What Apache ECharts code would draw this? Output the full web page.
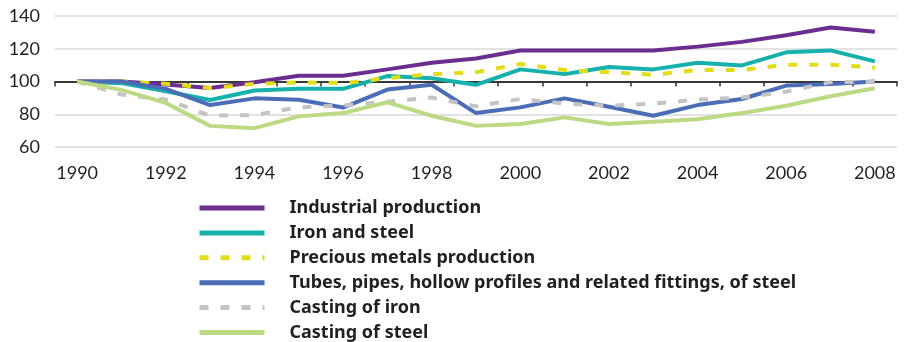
<!DOCTYPE html>
<html>
<head>
<meta charset="utf-8">
<script src="https://cdn.jsdelivr.net/npm/echarts@6/dist/echarts.min.js"></script>
<style>
  html, body { margin: 0; padding: 0; background: #fff; }
  #chart { width: 908px; height: 342px; }
</style>
</head>
<body>
<div id="chart"></div>
<script>
// Index values, 1990 = 100
const years = ['1990','1991','1992','1993','1994','1995','1996','1997','1998','1999',
               '2000','2001','2002','2003','2004','2005','2006','2007','2008'];

const industrialProduction = [100, 100, 98.2, 96, 99.5, 103.5, 103.5, 107.4, 111.5, 114,
                              118.9, 118.9, 118.9, 118.9, 121.3, 124.2, 128.3, 133, 130.4];
const ironAndSteel = [100, 99, 94, 88.7, 94.5, 95.5, 95.5, 103.3, 102, 98,
                      107.4, 104.5, 108.8, 107.4, 111.5, 109.8, 117.8, 119, 112.3];
const preciousMetals = [100, 100, 98.6, 96, 98.5, 99.5, 99, 102, 104.5, 105.7,
                        110.7, 107, 105.7, 104.1, 107, 107, 110.3, 110.3, 108.5];
const tubesPipes = [100, 100, 95.5, 85.6, 89.7, 88.9, 84.1, 95.1, 98, 80.7,
                    84.2, 89.7, 84.6, 79.1, 85.6, 89.3, 97.5, 98.4, 100];
const castingIron = [100, 92, 89, 79.1, 79.5, 84.2, 85.3, 87.7, 90.2, 84.8,
                     89.3, 86.5, 85.2, 86.5, 88.9, 90.2, 93.8, 99.6, 99.8];
const castingSteel = [100, 94.9, 86.9, 72.9, 71.5, 78.7, 80.7, 87.3, 79.1, 72.9,
                      74, 78.1, 74, 75.4, 77, 80.7, 85.2, 91, 95.9];

const seriesNames = [
  'Industrial production',
  'Iron and steel',
  'Precious metals production',
  'Tubes, pipes, hollow profiles and related fittings, of steel',
  'Casting of iron',
  'Casting of steel'
];
const seriesData = [industrialProduction, ironAndSteel, preciousMetals, tubesPipes, castingIron, castingSteel];
const seriesColors = ['#6b2d8f', '#16b1ac', '#e2dc1a', '#4a6db5', '#c4c4c4', '#bcd983'];
const seriesDash = ['solid', 'solid', [9, 12], 'solid', [9, 12], 'solid'];

const yTicks = { min: 60, max: 140, step: 20 };

const chart = echarts.init(document.getElementById('chart'), null, { renderer: 'canvas' });

const labelFont = 'Lato, "Open Sans", sans-serif';

chart.setOption({
  animation: false,
  backgroundColor: '#ffffff',
  grid: [
    { left: 55, right: 11, top: 16, height: 131 },
    // upper half of the plot: its bottom edge is the 100 baseline
    { left: 55, right: 11, top: 16, height: 65.5 }
  ],
  legend: {
    orient: 'vertical',
    left: 197,
    top: 199,
    padding: 0,
    itemWidth: 65,
    itemHeight: 12,
    itemGap: 6.9,
    // line-only keys: hide the marker that line series add by default
    itemStyle: { opacity: 0 },
    lineStyle: { width: 5 },
    textStyle: {
      fontFamily: '"Noto Sans", sans-serif',
      fontWeight: 'bold',
      fontSize: 18,
      lineHeight: 18,
      color: '#231f20',
      padding: [0, 0, 0, 20]
    },
    data: seriesNames
  },
  xAxis: [
    {
      type: 'category',
      gridIndex: 0,
      data: years,
      boundaryGap: true,
      axisLine: { show: false },
      axisTick: { show: false },
      splitLine: { show: false },
      axisLabel: {
        interval: 1,
        margin: 17,
        fontSize: 18,
        fontFamily: labelFont,
        color: '#231f20'
      }
    },
    {
      type: 'category',
      gridIndex: 1,
      data: years,
      boundaryGap: true,
      position: 'bottom',
      axisLine: { show: true, lineStyle: { color: '#000000', width: 1.5 } },
      axisTick: { show: true, interval: 0, length: 5, lineStyle: { color: '#333333', width: 1.5 } },
      axisLabel: { show: false },
      splitLine: { show: false }
    }
  ],
  yAxis: [
    {
      type: 'value',
      gridIndex: 0,
      min: yTicks.min,
      max: yTicks.max,
      interval: yTicks.step,
      axisLine: { show: false },
      axisTick: { show: false },
      axisLabel: {
        margin: 15,
        fontSize: 18,
        fontFamily: labelFont,
        color: '#231f20'
      },
      splitLine: { show: true, lineStyle: { color: '#d9d9d9', width: 1.5 } }
    },
    {
      type: 'value',
      gridIndex: 1,
      min: 100,
      max: 140,
      show: false,
      splitLine: { show: false }
    }
  ],
  series: seriesNames.map((name, i) => ({
    name: name,
    type: 'line',
    xAxisIndex: 0,
    yAxisIndex: 0,
    data: seriesData[i],
    symbol: 'none',
    smooth: false,
    color: seriesColors[i],
    lineStyle: { color: seriesColors[i], width: 4, type: seriesDash[i] },
    itemStyle: { color: seriesColors[i] },
    z: 2 + i
  }))
});
</script>
</body>
</html>
